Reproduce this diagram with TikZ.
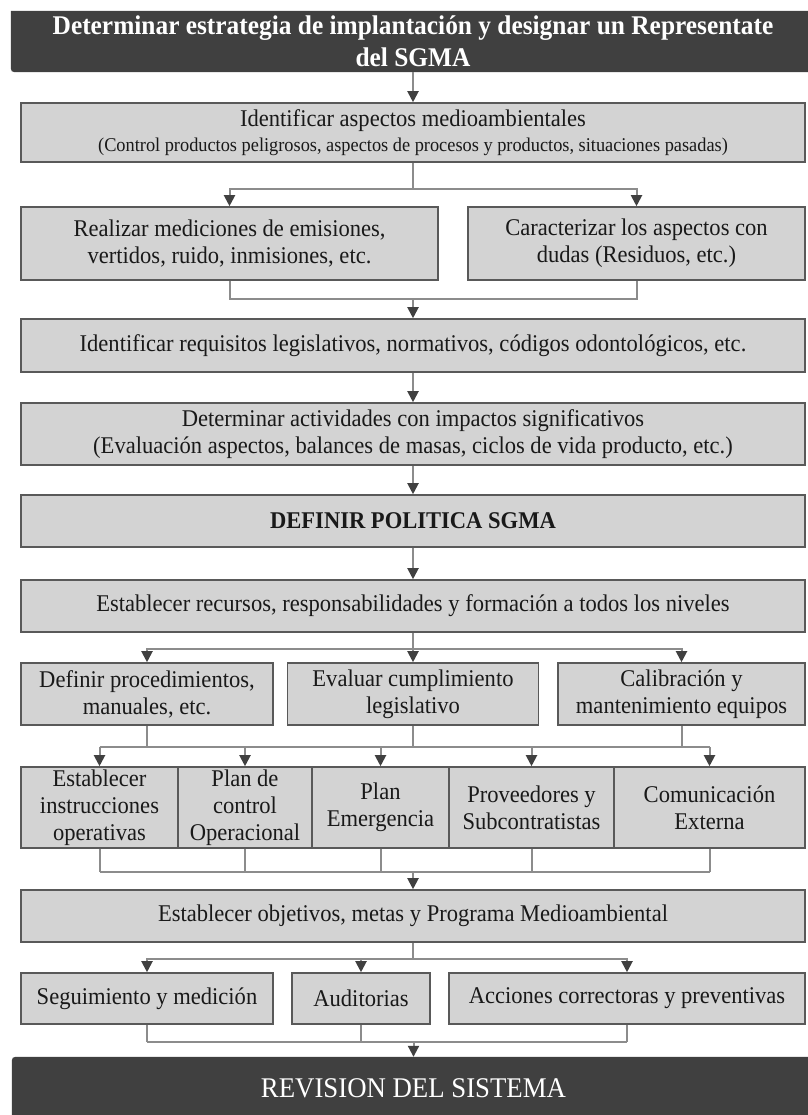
\documentclass[tikz,border=0pt]{standalone}
\usepackage{fontspec}
\setmainfont{Liberation Serif}[FakeStretch=0.94]
\usetikzlibrary{arrows.meta,backgrounds}
\definecolor{boxgray}{HTML}{D3D3D3}
\definecolor{darkbox}{HTML}{404040}
\definecolor{linegray}{HTML}{8C8C8C}
\newcommand{\bxfont}{\fontsize{24}{27}\selectfont}
\newcommand{\subfont}{\fontsize{19.5}{22}\selectfont}
\newcommand{\topfont}{\fontsize{27}{32}\selectfont\bfseries}
\newcommand{\revfont}{\fontsize{28.5}{32}\selectfont}
\begin{document}
\begin{tikzpicture}[x=1pt,y=-1pt,
  box/.style={draw=black!65, fill=boxgray, line width=1.6pt, inner sep=0pt, align=center, font=\bxfont, text=black!90},
  darknode/.style={inner sep=0pt, align=center, text=white},
  ln/.style={draw=linegray, line width=2pt},
  arr/.style={ln, -{Triangle[width=11pt,length=11pt,color=black!75]}}]
\useasboundingbox (0,0) rectangle (807,1115);
% top and bottom dark banners
\node[darknode, minimum width=804pt, minimum height=61pt, font=\topfont] (strat) at (413,41.5) {Determinar estrategia de implantación y designar un Representate\\del SGMA};
\node[darknode, minimum width=803pt, minimum height=63pt, font=\revfont] (rev) at (413.5,1088.5) {REVISION DEL SISTEMA};
% main column
\node[box, minimum width=784pt, minimum height=59pt] (asp) at (413,132.5) {Identificar aspectos medioambientales\\[-2pt]{\subfont (Control productos peligrosos, aspectos de procesos y productos, situaciones pasadas)}};
\node[box, minimum width=417pt, minimum height=73pt] (mea) at (229.5,243.5) {Realizar mediciones de emisiones,\\vertidos, ruido, inmisiones, etc.};
\node[box, minimum width=337pt, minimum height=73pt] (car) at (636.5,243.5) {Caracterizar los aspectos con\\dudas (Residuos, etc.)};
\node[box, minimum width=784pt, minimum height=53pt] (req) at (413,345.5) {Identificar requisitos legislativos, normativos, códigos odontológicos, etc.};
\node[box, minimum width=784pt, minimum height=62pt] (act) at (413,434) {Determinar actividades con impactos significativos\\(Evaluación aspectos, balances de masas, ciclos de vida producto, etc.)};
\node[box, minimum width=784pt, minimum height=52pt] (pol) at (413,521) {\textbf{DEFINIR POLITICA SGMA}};
\node[box, minimum width=784pt, minimum height=52pt] (rec) at (413,606) {Establecer recursos, responsabilidades y formación a todos los niveles};
% three boxes
\node[box, minimum width=252pt, minimum height=62pt] (proc) at (147,694) {Definir procedimientos,\\manuales, etc.};
\node[box, minimum width=251pt, minimum height=62pt] (eva) at (413,694) {Evaluar cumplimiento\\legislativo};
\node[box, minimum width=247pt, minimum height=62pt] (cal) at (681.5,694) {Calibración y\\mantenimiento equipos};
% five boxes
\node[box, minimum width=157pt, minimum height=81pt] (ins) at (99.5,807.5) {Establecer\\instrucciones\\operativas};
\node[box, minimum width=134pt, minimum height=81pt] (pco) at (245,807.5) {Plan de\\control\\Operacional};
\node[box, minimum width=137pt, minimum height=81pt] (eme) at (380.5,807.5) {Plan\\Emergencia};
\node[box, minimum width=165pt, minimum height=81pt] (pro) at (531.5,807.5) {Proveedores y\\Subcontratistas};
\node[box, minimum width=191pt, minimum height=81pt] (com) at (709.5,807.5) {Comunicación\\Externa};
\node[box, minimum width=784pt, minimum height=52pt] (obj) at (413,916) {Establecer objetivos, metas y Programa Medioambiental};
% last three boxes
\node[box, minimum width=252pt, minimum height=51pt] (seg) at (147,998.5) {Seguimiento y medición};
\node[box, minimum width=138pt, minimum height=51pt] (aud) at (361,998.5) {Auditorias};
\node[box, minimum width=356pt, minimum height=51pt] (acc) at (627,998.5) {Acciones correctoras y preventivas};
% banner shapes
\begin{scope}[on background layer]
\fill[white] (0,0) rectangle (807,1115);
\fill[darkbox] (strat.north west) -- (strat.north east) -- (strat.south east) -- ([xshift=8pt]strat.south west) .. controls (strat.south west) .. ([yshift=8pt]strat.south west) -- cycle;
\fill[darkbox] ([xshift=8pt]rev.north west) -- (rev.north east) -- (rev.south east) -- (rev.south west) -- ([yshift=-8pt]rev.north west) .. controls (rev.north west) .. ([xshift=8pt]rev.north west) -- cycle;
\end{scope}
% bus levels
\coordinate (j1) at (413,298);
\coordinate (b2) at (0,747);
\coordinate (b3) at (0,872);
\coordinate (b4) at (0,1042);
% connectors
\draw[arr] (strat) -- (asp);
\draw[arr] (asp.south) -- ++(0,26) -| (mea.north);
\draw[arr] (asp.south) -- ++(0,26) -| (car.north);
\draw[ln] (mea.south) -- ++(0,18) -| (car.south);
\draw[arr] (j1) -- (req);
\draw[arr] (req) -- (act);
\draw[arr] (act) -- (pol);
\draw[arr] (pol) -- (rec);
\draw[arr] (rec.south) -- ++(0,16) -| (proc.north);
\draw[arr] (rec.south) -- ++(0,16) -| (eva.north);
\draw[arr] (rec.south) -- ++(0,16) -| (cal.north);
\draw[ln] (proc.south) -- (proc.south |- b2);
\draw[ln] (eva.south) -- (eva.south |- b2);
\draw[ln] (cal.south) -- (cal.south |- b2);
\draw[ln] (ins.north |- b2) -- (com.north |- b2);
\draw[arr] (ins.north |- b2) -- (ins.north);
\draw[arr] (pco.north |- b2) -- (pco.north);
\draw[arr] (eme.north |- b2) -- (eme.north);
\draw[arr] (pro.north |- b2) -- (pro.north);
\draw[arr] (com.north |- b2) -- (com.north);
\draw[ln] (ins.south) -- (ins.south |- b3);
\draw[ln] (pco.south) -- (pco.south |- b3);
\draw[ln] (eme.south) -- (eme.south |- b3);
\draw[ln] (pro.south) -- (pro.south |- b3);
\draw[ln] (com.south) -- (com.south |- b3);
\draw[ln] (ins.south |- b3) -- (com.south |- b3);
\draw[arr] (obj.north |- b3) -- (obj.north);
\draw[arr] (obj.south) -- ++(0,16) -| (seg.north);
\draw[arr] (obj.south) -- ++(0,16) -| (aud.north);
\draw[arr] (obj.south) -- ++(0,16) -| (acc.north);
\draw[ln] (seg.south) -- (seg.south |- b4);
\draw[ln] (aud.south) -- (aud.south |- b4);
\draw[ln] (acc.south) -- (acc.south |- b4);
\draw[ln] (seg.south |- b4) -- (acc.south |- b4);
\draw[arr] (rev.north |- b4) -- (rev.north);
\end{tikzpicture}
\end{document}
